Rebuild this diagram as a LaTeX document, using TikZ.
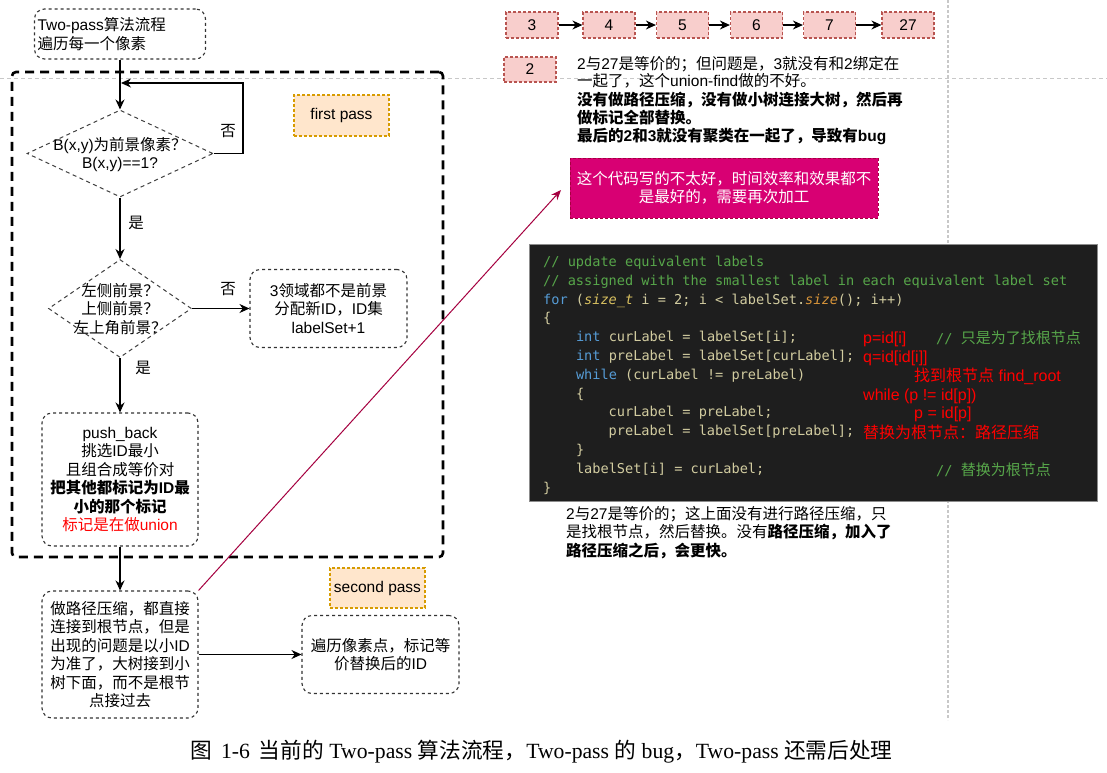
\documentclass[tikz,border=0pt]{standalone}
\usepackage{fontspec}
\setmainfont{Liberation Sans}
\setmonofont{DejaVu Sans Mono}
\newfontfamily\cjkfont{Noto Sans CJK SC}
\newfontfamily\capfont{Liberation Serif}
\newcommand\zh[1]{{\cjkfont #1}}
\usetikzlibrary{shapes.geometric,arrows.meta}
\definecolor{guide}{HTML}{C8C8C8}
\definecolor{pinkfill}{HTML}{F8CECC}
\definecolor{pinkline}{HTML}{B85450}
\definecolor{orfill}{HTML}{FFE6CC}
\definecolor{orline}{HTML}{D79B00}
\definecolor{magfill}{HTML}{D80073}
\definecolor{magline}{HTML}{A50040}
\definecolor{codebg}{HTML}{1E1E1E}
\definecolor{codefg}{HTML}{D2CCA0}
\definecolor{cmt}{HTML}{57A64A}
\definecolor{kw}{HTML}{569CD6}
\definecolor{ty}{HTML}{D8C060}
\definecolor{fn}{HTML}{D8953A}
\definecolor{annot}{HTML}{FF0000}
\begin{document}
\begin{tikzpicture}[x=1pt,y=-1pt,
  txt/.style={font=\fontsize{15.5}{18.5}\selectfont},
  flowbox/.style={txt, draw=black!80, line width=1.1pt, dash pattern=on 3pt off 3pt, rounded corners=10pt, align=center, inner sep=2pt},
  dia/.style={diamond, draw=black!75, line width=1pt, dash pattern=on 4pt off 3.5pt, inner sep=0pt},
  conn/.style={line width=1.2pt, -{Stealth[length=10pt,width=9pt]}},
  tagbox/.style={txt, fill=orfill, draw=orline, line width=1.1pt, dash pattern=on 3pt off 2pt, minimum width=95pt, inner sep=0pt},
  numbox/.style={txt, fill=pinkfill, draw=pinkline, line width=1.2pt, dash pattern=on 3pt off 2pt, minimum width=52pt, minimum height=26pt, inner sep=0pt},
  lbl/.style={txt, inner sep=0pt},
  textline/.style={txt, anchor=base west, inner sep=0pt},
  codeln/.style={anchor=base west, inner sep=0pt, text=codefg, font=\ttfamily\fontsize{13.6}{16}\selectfont},
  ann/.style={anchor=base west, inner sep=0pt, text=annot, font=\fontsize{16}{18}\selectfont},
  cmtnote/.style={anchor=base west, inner sep=0pt, text=cmt, font=\ttfamily\fontsize{13.6}{16}\selectfont},
]
\fill[white] (0,0) rectangle (1107,772);
\useasboundingbox (0,0) rectangle (1107,772);

% guide lines
\draw[guide, line width=1pt, dash pattern=on 4pt off 3pt] (0,78) -- (1107,78);
\draw[guide, line width=1.4pt, dash pattern=on 3pt off 2pt] (948,0) -- (948,720);

% first pass container
\node[draw=black, line width=2.6pt, dash pattern=on 9pt off 6pt, rounded corners=4pt,
      minimum width=431pt, minimum height=485pt, inner sep=0pt] (grp) at (227.5,314.5) {};

% flowchart
\node[flowbox, minimum width=171pt, minimum height=50pt, text width=165pt, align=left, inner sep=3pt] (start) at (120,34) {Two-pass\zh{算法流程}\\\zh{遍历每一个像素}};
\node[dia, minimum width=186pt, minimum height=87pt] (d1) at (120,153.5) {};
\node[lbl, align=center] (d1t) at (120,154.5) {B(x,y)\zh{为前景像素？}\\B(x,y)==1?};
\node[dia, minimum width=143pt, minimum height=98pt] (d2) at (120,308.5) {};
\node[lbl, align=center] (d2t) at (120,309) {\zh{左侧前景？}\\\zh{上侧前景？}\\\zh{左上角前景？}};
\node[flowbox, minimum width=157pt, minimum height=78pt] (b3) at (328.5,308.5) {3\zh{领域都不是前景}\\\zh{分配新}ID\zh{，}ID\zh{集}\\labelSet+1};
\node[flowbox, minimum width=156pt, minimum height=133pt] (push) at (120,479.5) {push\_back\\\zh{挑选}ID\zh{最小}\\\zh{且组合成等价对}\\\textbf{\zh{把其他都标记为}ID\zh{最}}\\\textbf{\zh{小的那个标记}}\\\textcolor{annot}{\zh{标记是在做}union}};
\node[flowbox, minimum width=156pt, minimum height=127pt] (path) at (120,654.5) {\zh{做路径压缩，都直接}\\\zh{连接到根节点，但是}\\\zh{出现的问题是以小}ID\\\zh{为准了，大树接到小}\\\zh{树下面，而不是根节}\\\zh{点接过去}};
\node[flowbox, minimum width=157pt, minimum height=78pt] (trav) at (380.5,654.5) {\zh{遍历像素点，标记等}\\\zh{价替换后的}ID};
\node[tagbox, minimum height=41pt] (fp) at (341.5,115.5) {first pass};
\node[tagbox, minimum height=40pt] (sp) at (377.5,588) {second pass};

\coordinate (loopR) at (243,83);
\coordinate (loopend) at (121,83);
\draw[conn] (start.south) -- (d1.north);
\draw[conn] (d1.east) -| (loopR) -- (loopend);
\draw[conn] (d1.south) -- (d2.north);
\draw[conn] (d2.east) -- (b3.west);
\draw[conn] (d2.south) -- (push.north);
\draw[conn] (push.south) -- (path.north);
\draw[conn] (path.east) -- (trav.west);
\node[lbl] (no1) at (228,131) {\zh{否}};
\node[lbl] (yes1) at (136,223) {\zh{是}};
\node[lbl] (no2) at (228,289) {\zh{否}};
\node[lbl] (yes2) at (143,368) {\zh{是}};

% top chain
\node[numbox] (n3) at (532,25) {3};
\node[numbox] (n4) at (609,25) {4};
\node[numbox] (n5) at (682.5,25) {5};
\node[numbox] (n6) at (756.5,25) {6};
\node[numbox] (n7) at (829.5,25) {7};
\node[numbox] (n27) at (908,25) {27};
\foreach \a/\b in {n3/n4,n4/n5,n5/n6,n6/n7,n7/n27} \draw[conn] (\a) -- (\b);
\node[numbox, minimum height=25pt] (n2) at (530,69.5) {2};

\node[textline] (t1) at (577,69) {2\zh{与}27\zh{是等价的；但问题是，}3\zh{就没有和}2\zh{绑定在}};
\node[textline] (t2) at (577,86) {\zh{一起了，这个}union-find\zh{做的不好。}};
\node[textline] (t3) at (577,105) {{\bfseries\zh{没有做路径压缩，没有做小树连接大树，然后再}}};
\node[textline] (t4) at (577,123) {{\bfseries\zh{做标记全部替换。}}};
\node[textline] (t5) at (577,141) {{\bfseries\zh{最后的}2\zh{和}3\zh{就没有聚类在一起了，导致有}bug}};

\node[txt, fill=magfill, draw=magline, line width=1pt, dash pattern=on 3pt off 2pt, minimum width=308pt, minimum height=60pt, text=white, align=center, inner sep=0pt] (mag) at (724,188) {\zh{这个代码写的不太好，时间效率和效果都不}\\\zh{是最好的，需要再次加工}};

\coordinate (cEnd) at (561,190);
\draw[magline, line width=1pt, -{Stealth[length=10pt,width=8pt]}] (path.north east) -- (cEnd);

% code block
\node[draw=black!45, line width=1pt, fill=codebg, minimum width=568pt, minimum height=257pt, inner sep=0pt] (code) at (813,372.5) {};
\node[codeln, text=cmt] (c1) at (543,266.5) {// update equivalent labels};
\node[codeln, text=cmt] (c2) at (543,285.3) {// assigned with the smallest label in each equivalent label set};
\node[codeln] (c3) at (543,304.1) {\textcolor{kw}{for} (\textcolor{ty}{\itshape size\_t} i = 2; i < labelSet.\textcolor{fn}{\itshape size}(); i++)};
\node[codeln] (c4) at (543,322.9) {\{};
\node[codeln] (c5) at (575.8,341.7) {\textcolor{kw}{int} curLabel = labelSet[i];};
\node[codeln] (c6) at (575.8,360.5) {\textcolor{kw}{int} preLabel = labelSet[curLabel];};
\node[codeln] (c7) at (575.8,379.3) {\textcolor{kw}{while} (curLabel != preLabel)};
\node[codeln] (c8) at (575.8,398.1) {\{};
\node[codeln] (c9) at (608.5,416.9) {curLabel = preLabel;};
\node[codeln] (c10) at (608.5,435.7) {preLabel = labelSet[preLabel];};
\node[codeln] (c11) at (575.8,454.5) {\}};
\node[codeln] (c12) at (575.8,473.3) {labelSet[i] = curLabel;};
\node[codeln] (c13) at (543,492.1) {\}};

\node[ann] (a1) at (863,343) {p=id[i]};
\node[cmtnote] (a2) at (936,343) {// {\fontsize{15}{16}\selectfont\zh{只是为了找根节点}}};
\node[ann] (a3) at (863,362) {q=id[id[i]]};
\node[ann] (a4) at (914,381) {\zh{找到根节点} find\_root};
\node[ann] (a5) at (863,400) {while (p != id[p])};
\node[ann] (a6) at (914,418) {p = id[p]};
\node[ann] (a7) at (863,438) {\zh{替换为根节点：路径压缩}};
\node[cmtnote] (a8) at (936,475) {// {\fontsize{15}{16}\selectfont\zh{替换为根节点}}};

\node[textline] (u1) at (566,519) {2\zh{与}27\zh{是等价的；这上面没有进行路径压缩，只}};
\node[textline] (u2) at (566,537) {\zh{是找根节点，然后替换。没有}{\bfseries\zh{路径压缩，加入了}}};
\node[textline] (u3) at (566,556) {{\bfseries\zh{路径压缩之后，会更快。}}};

% caption
\node[inner sep=0pt, font=\capfont\fontsize{21.7}{24}\selectfont] (cap) at (541.5,752) {\zh{图}\hspace{9pt}1-6\hspace{9pt}\zh{当前的} Two-pass \zh{算法流程，}Two-pass \zh{的} bug\zh{，}Two-pass \zh{还需后处理}};
\end{tikzpicture}
\end{document}
